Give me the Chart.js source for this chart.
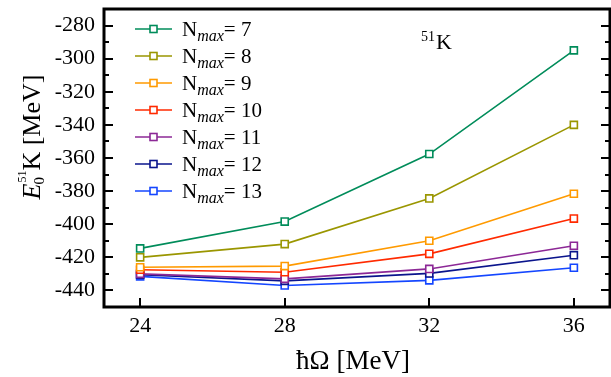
<!DOCTYPE html>
<html><head><meta charset="utf-8">
<script src="https://cdn.jsdelivr.net/npm/chart.js@4"></script>
<style>html,body{margin:0;padding:0;background:#fff;}#wrap{width:611px;height:377px;position:relative;}</style>
</head><body><div id="wrap"><canvas id="c" width="611" height="377"></canvas></div>
<script>
const hbarOmega = [24, 28, 32, 36];
const nmaxLabels = ['7', '8', '9', '10', '11', '12', '13'];
const e_n7  = [-414.6, -398.4, -357.6, -295.0];
const e_n8  = [-420.0, -412.0, -384.4, -340.0];
const e_n9  = [-426.0, -425.3, -410.0, -381.6];
const e_n10 = [-427.5, -429.0, -417.9, -396.6];
const e_n11 = [-430.0, -433.0, -427.0, -413.0];
const e_n12 = [-430.5, -434.2, -429.7, -418.7];
const e_n13 = [-431.5, -437.0, -433.9, -426.3];
const yTickValues = [-440, -420, -400, -380, -360, -340, -320, -300, -280];
const xTickValues = [24, 28, 32, 36];

const seriesValues = [e_n7, e_n8, e_n9, e_n10, e_n11, e_n12, e_n13];
const colors = ['#008c5a', '#9a9600', '#ff9a00', '#ff2a00', '#8c2896', '#0a148c', '#1446ff'];

const serif = "'Liberation Serif', 'DejaVu Serif', serif";
Chart.defaults.font.family = serif;
Chart.defaults.color = '#000';

const datasets = seriesValues.map((vals, i) => ({
  label: 'Nmax= ' + nmaxLabels[i],
  data: vals.map((v, j) => ({x: hbarOmega[j], y: v})),
  borderColor: colors[i],
  backgroundColor: '#ffffff',
  pointBorderColor: colors[i],
  pointBackgroundColor: '#ffffff',
  pointStyle: 'rect',
  pointRadius: 5,
  pointBorderWidth: 1.6,
  borderWidth: 1.6,
  tension: 0
}));

const decor = {
  id: 'decor',
  afterDraw(chart) {
    const ctx = chart.ctx;
    const a = chart.chartArea;
    const xs = chart.scales.x, ys = chart.scales.y;
    ctx.save();
    ctx.strokeStyle = '#000';
    ctx.lineWidth = 2;
    for (let v = -440; v <= -270; v += 10) {
      const y = Math.round(ys.getPixelForValue(v));
      const len = (v % 20 === 0) ? 9 : 5;
      ctx.beginPath();
      ctx.moveTo(a.left, y); ctx.lineTo(a.left + len, y);
      ctx.moveTo(a.right, y); ctx.lineTo(a.right - len, y);
      ctx.stroke();
    }
    xTickValues.forEach(v => {
      const x = Math.round(xs.getPixelForValue(v));
      ctx.beginPath();
      ctx.moveTo(x, a.bottom); ctx.lineTo(x, a.bottom - 9);
      ctx.stroke();
    });
    ctx.lineWidth = 3;
    ctx.strokeRect(a.left, a.top, a.right - a.left, a.bottom - a.top);
    // legend
    ctx.textBaseline = 'alphabetic';
    chart.data.datasets.forEach((ds, i) => {
      const cy = 29 + i * 27;
      ctx.strokeStyle = ds.borderColor;
      ctx.lineWidth = 1.6;
      ctx.beginPath(); ctx.moveTo(135, cy); ctx.lineTo(172, cy); ctx.stroke();
      ctx.fillStyle = '#fff';
      ctx.fillRect(150, cy - 3.5, 7, 7);
      ctx.strokeRect(150, cy - 3.5, 7, 7);
      ctx.fillStyle = '#000';
      const base = cy + 7;
      ctx.font = '21px ' + serif;
      ctx.fillText('N', 182, base);
      let x = 182 + ctx.measureText('N').width;
      ctx.font = 'italic 16px ' + serif;
      ctx.fillText('max', x, base + 5);
      x += ctx.measureText('max').width;
      ctx.font = '21px ' + serif;
      ctx.fillText('= ' + nmaxLabels[i], x, base);
    });
    // 51K annotation
    ctx.fillStyle = '#000';
    ctx.font = '14px ' + serif;
    ctx.fillText('51', 421, 41);
    ctx.font = '22px ' + serif;
    ctx.fillText('K', 436, 49);
    // x title
    ctx.font = '27px ' + serif;
    ctx.textAlign = 'center';
    ctx.fillText('ħΩ [MeV]', 353, 369);
    // y title rotated
    ctx.save();
    ctx.translate(40, 137);
    ctx.rotate(-Math.PI / 2);
    ctx.textAlign = 'left';
    ctx.font = 'italic 26px ' + serif; const wE = ctx.measureText('E').width;
    ctx.font = '15px ' + serif; const w0 = ctx.measureText('0').width;
    ctx.font = '12px ' + serif; const w51 = ctx.measureText('51').width;
    ctx.font = '26px ' + serif; const wK = ctx.measureText('K [MeV]').width;
    const total = wE + Math.max(w0, w51) + 1 + wK;
    let x0 = -total / 2;
    ctx.font = 'italic 26px ' + serif; ctx.fillText('E', x0, 0); x0 += wE;
    ctx.font = '15px ' + serif; ctx.fillText('0', x0 - 1, 4);
    ctx.font = '12px ' + serif; ctx.fillText('51', x0 + 1, -14);
    x0 += Math.max(w0, w51) + 1;
    ctx.font = '26px ' + serif; ctx.fillText('K [MeV]', x0, 0);
    ctx.restore();
    ctx.restore();
  }
};

function noPad(s) { s.paddingTop = 0; s.paddingBottom = 0; s.paddingLeft = 0; s.paddingRight = 0; }

new Chart(document.getElementById('c'), {
  type: 'line',
  data: { datasets },
  options: {
    responsive: false,
    animation: false,
    events: [],
    layout: { autoPadding: false, padding: { top: 9, right: 1, left: 0, bottom: 0 } },
    plugins: { legend: { display: false }, tooltip: { enabled: false } },
    scales: {
      x: {
        type: 'linear', min: 23, max: 37,
        afterBuildTicks: s => { s.ticks = xTickValues.map(v => ({value: v})); },
        afterFit: s => { s.height = 70; noPad(s); },
        grid: { display: false, drawTicks: false },
        border: { display: false },
        ticks: { color: '#000', font: { family: serif, size: 22 }, padding: 6, maxRotation: 0, callback: v => String(v) }
      },
      y: {
        type: 'linear', min: -450, max: -270,
        afterBuildTicks: s => { s.ticks = yTickValues.map(v => ({value: v})); },
        afterFit: s => { s.width = 104; noPad(s); },
        grid: { display: false, drawTicks: false },
        border: { display: false },
        ticks: { color: '#000', font: { family: serif, size: 22 }, padding: 9, callback: v => String(v) }
      }
    }
  },
  plugins: [decor]
});
</script></body></html>
